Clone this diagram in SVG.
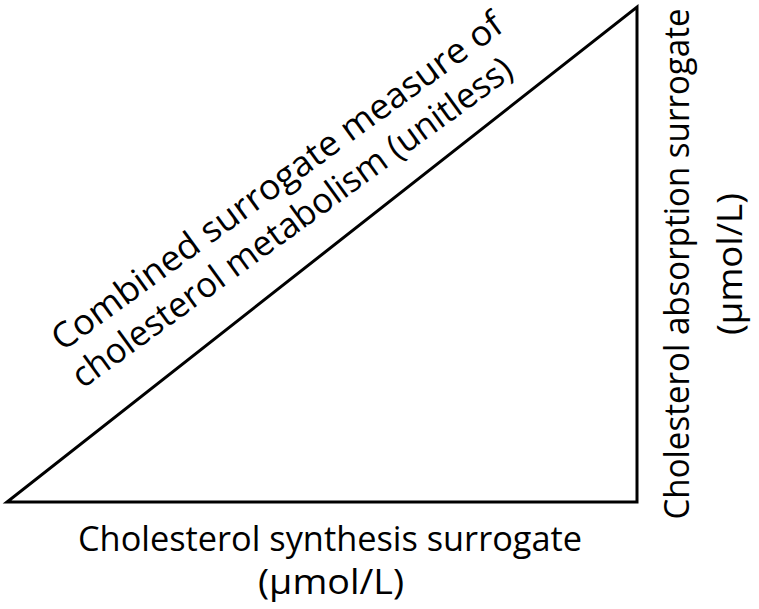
<svg xmlns="http://www.w3.org/2000/svg" width="759" height="609" viewBox="0 0 759 609">
<style>
.t{font-family:"Open Sans","Noto Sans","Liberation Sans",sans-serif;font-size:35px;fill:#000;text-anchor:middle}
.tri{fill:none;stroke:#000;stroke-width:3;stroke-linejoin:miter}
</style>
<rect width="759" height="609" fill="#fff"/>
<g id="triangle">
<polygon class="tri" points="7,502 637,502 637,7"/>
</g>
<g id="hypotenuse-label">
<text class="t" transform="translate(284,191) rotate(-36)" textLength="548" lengthAdjust="spacingAndGlyphs">Combined surrogate measure of</text>
<text class="t" transform="translate(299,232) rotate(-36)" textLength="535" lengthAdjust="spacingAndGlyphs">cholesterol metabolism (unitless)</text>
</g>
<g id="x-label">
<text class="t" x="330" y="551" textLength="504" lengthAdjust="spacingAndGlyphs">Cholesterol synthesis surrogate</text>
<text class="t" x="331" y="594" textLength="146" lengthAdjust="spacingAndGlyphs">(µmol/L)</text>
</g>
<g id="y-label">
<text class="t" transform="translate(689,264) rotate(-90)" textLength="511" lengthAdjust="spacingAndGlyphs">Cholesterol absorption surrogate</text>
<text class="t" transform="translate(742,264) rotate(-90)" textLength="142" lengthAdjust="spacingAndGlyphs">(µmol/L)</text>
</g>
</svg>
